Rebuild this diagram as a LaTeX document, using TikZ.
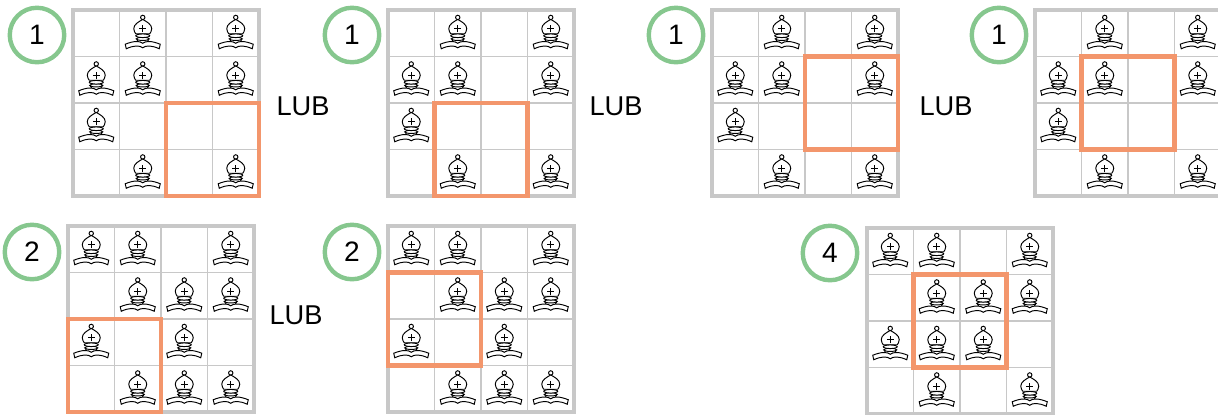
\documentclass[tikz,border=0pt]{standalone}
\usepackage{fontspec}
\setmainfont{Liberation Sans}
\usepackage{tikz}
\definecolor{gridgray}{RGB}{200,200,200}
\definecolor{numgreen}{RGB}{134,199,142}
\definecolor{boxorange}{RGB}{243,150,108}
\tikzset{
	numcircle/.style={circle, draw=numgreen, line width=2.5pt, minimum size=1.09cm, inner sep=0pt, font=\fontsize{16}{16}\selectfont},
	lubtext/.style={font=\fontsize{15.5}{15.5}\selectfont, inner sep=0pt},
	cellline/.style={draw=gridgray, line width=1.1pt},
	boardedge/.style={draw=gridgray, line width=2.3pt},
	lubbox/.style={draw=boxorange, line width=2.4pt},
	bishop/.pic={
		\draw[line width=0.55pt, fill=white] (0,15.8) circle (2.2);
		\draw[line width=0.55pt, fill=white] (0,13.8) .. controls (-4,11.5) and (-9,9) .. (-9,4.5) .. controls (-9,2) and (-7.5,0.5) .. (-7,-0.5) -- (7,-0.5) .. controls (7.5,0.5) and (9,2) .. (9,4.5) .. controls (9,9) and (4,11.5) .. (0,13.8) -- cycle;
		\draw[line width=0.55pt] (-3.5,4.5) -- (3.5,4.5) (0,1) -- (0,8);
		\draw[line width=0.55pt, fill=white] (-6,-6) -- (-3.5,-10.5) -- (3.5,-10.5) -- (6,-6);
		\draw[line width=0.55pt, fill=white] (0,-5.6) ellipse (6.5 and 1.6);
		\draw[line width=0.55pt, fill=white] (0,-2.5) ellipse (7 and 1.8);
		\draw[line width=0.55pt, fill=white] (-17.5,-11) .. controls (-9,-7.5) and (-3,-7.5) .. (0,-10) .. controls (3,-7.5) and (9,-7.5) .. (17.5,-11) -- (16.5,-15.5) .. controls (9,-12) and (3,-12) .. (0,-14.5) .. controls (-3,-12) and (-9,-12) .. (-16.5,-15.5) -- cycle;
	}
}

\begin{document}
\begin{tikzpicture}[x=0.02cm, y=0.02cm]
	\useasboundingbox (0,0) rectangle (1218,-414);
	
	% top row
	\begin{scope}[shift={(73,-10)}]
		\foreach \i in {1,2,3} {
			\draw[cellline] (\i*46.5,0) -- (\i*46.5,-186);
			\draw[cellline] (0,-\i*46.5) -- (186,-\i*46.5);
		}
		\draw[boardedge] (0,0) rectangle (186,-186);
		\foreach \col/\row in {2/1,4/1,1/2,2/2,4/2,1/3,2/4,4/4}
			\pic at ({(\col-0.5)*46.5},{-(\row-0.5)*46.5}) {bishop};
		\draw[lubbox] (93,-93) rectangle (186,-186);
		\node[numcircle] (n1) at (-36,-25) {1};
	\end{scope}
	\node[lubtext] (lub1) at (303,-106.5) {LUB};
	
	\begin{scope}[shift={(388,-10)}]
		\foreach \i in {1,2,3} {
			\draw[cellline] (\i*46.5,0) -- (\i*46.5,-186);
			\draw[cellline] (0,-\i*46.5) -- (186,-\i*46.5);
		}
		\draw[boardedge] (0,0) rectangle (186,-186);
		\foreach \col/\row in {2/1,4/1,1/2,2/2,4/2,1/3,2/4,4/4}
			\pic at ({(\col-0.5)*46.5},{-(\row-0.5)*46.5}) {bishop};
		\draw[lubbox] (46.5,-93) rectangle (139.5,-186);
		\node[numcircle] (n2) at (-36,-25) {1};
	\end{scope}
	\node[lubtext] (lub2) at (616,-106.5) {LUB};
	
	\begin{scope}[shift={(712,-10)}]
		\foreach \i in {1,2,3} {
			\draw[cellline] (\i*46.5,0) -- (\i*46.5,-186);
			\draw[cellline] (0,-\i*46.5) -- (186,-\i*46.5);
		}
		\draw[boardedge] (0,0) rectangle (186,-186);
		\foreach \col/\row in {2/1,4/1,1/2,2/2,4/2,1/3,2/4,4/4}
			\pic at ({(\col-0.5)*46.5},{-(\row-0.5)*46.5}) {bishop};
		\draw[lubbox] (93,-46.5) rectangle (186,-139.5);
		\node[numcircle] (n3) at (-36,-25) {1};
	\end{scope}
	\node[lubtext] (lub3) at (946,-106.5) {LUB};
	
	\begin{scope}[shift={(1035,-10)}]
		\foreach \i in {1,2,3} {
			\draw[cellline] (\i*46.5,0) -- (\i*46.5,-186);
			\draw[cellline] (0,-\i*46.5) -- (186,-\i*46.5);
		}
		\draw[boardedge] (0,0) rectangle (186,-186);
		\foreach \col/\row in {2/1,4/1,1/2,2/2,4/2,1/3,2/4,4/4}
			\pic at ({(\col-0.5)*46.5},{-(\row-0.5)*46.5}) {bishop};
		\draw[lubbox] (46.5,-46.5) rectangle (139.5,-139.5);
		\node[numcircle] (n4) at (-36,-25) {1};
	\end{scope}
	
	% bottom row
	\begin{scope}[shift={(68,-226)}]
		\foreach \i in {1,2,3} {
			\draw[cellline] (\i*46.5,0) -- (\i*46.5,-186);
			\draw[cellline] (0,-\i*46.5) -- (186,-\i*46.5);
		}
		\draw[boardedge] (0,0) rectangle (186,-186);
		\foreach \col/\row in {1/1,2/1,4/1,2/2,3/2,4/2,1/3,3/3,2/4,3/4,4/4}
			\pic at ({(\col-0.5)*46.5},{-(\row-0.5)*46.5}) {bishop};
		\draw[lubbox] (0,-93) rectangle (93,-186);
		\node[numcircle] (n5) at (-36,-26) {2};
	\end{scope}
	\node[lubtext] (lub4) at (296,-315) {LUB};
	
	\begin{scope}[shift={(388,-226)}]
		\foreach \i in {1,2,3} {
			\draw[cellline] (\i*46.5,0) -- (\i*46.5,-186);
			\draw[cellline] (0,-\i*46.5) -- (186,-\i*46.5);
		}
		\draw[boardedge] (0,0) rectangle (186,-186);
		\foreach \col/\row in {1/1,2/1,4/1,2/2,3/2,4/2,1/3,3/3,2/4,3/4,4/4}
			\pic at ({(\col-0.5)*46.5},{-(\row-0.5)*46.5}) {bishop};
		\draw[lubbox] (0,-46.5) rectangle (93,-139.5);
		\node[numcircle] (n6) at (-36,-26) {2};
	\end{scope}
	
	\begin{scope}[shift={(867,-228)}]
		\foreach \i in {1,2,3} {
			\draw[cellline] (\i*46.5,0) -- (\i*46.5,-186);
			\draw[cellline] (0,-\i*46.5) -- (186,-\i*46.5);
		}
		\draw[boardedge] (0,0) rectangle (186,-186);
		\foreach \col/\row in {1/1,2/1,4/1,2/2,3/2,4/2,1/3,2/3,3/3,2/4,4/4}
			\pic at ({(\col-0.5)*46.5},{-(\row-0.5)*46.5}) {bishop};
		\draw[lubbox] (46.5,-46.5) rectangle (139.5,-139.5);
		\node[numcircle] (n7) at (-37,-25) {4};
	\end{scope}
\end{tikzpicture}
\end{document}
